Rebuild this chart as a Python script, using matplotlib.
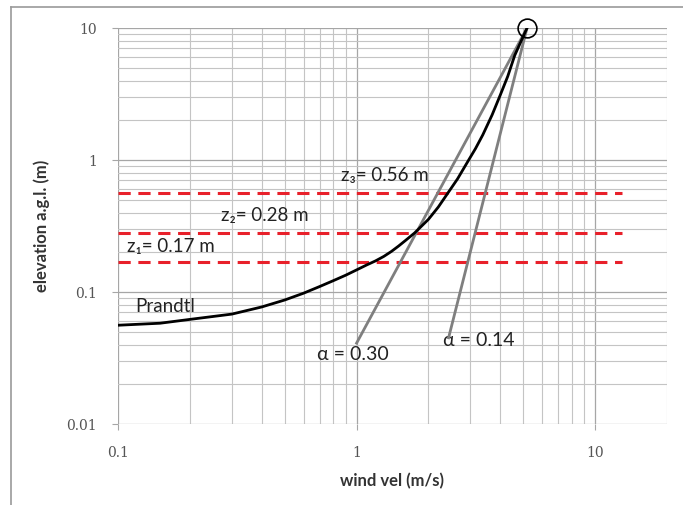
import matplotlib
matplotlib.use("Agg")
import matplotlib.pyplot as plt
from matplotlib.lines import Line2D
from matplotlib.ticker import LogLocator, FixedLocator, NullFormatter

# ---- data ----
prandtl_u = [0.1, 0.15, 0.2, 0.3, 0.4, 0.5, 0.6, 0.7, 0.8, 0.9, 1.0, 1.1, 1.2, 1.3,
             1.4, 1.5, 1.6, 1.75, 2.0, 2.2, 2.41, 2.65, 2.95, 3.15, 3.38, 3.7, 4.0,
             4.3, 4.6, 4.9, 5.18]
prandtl_z = [0.056, 0.058, 0.062, 0.068, 0.077, 0.087, 0.098, 0.11, 0.122, 0.134,
             0.147, 0.16, 0.172, 0.186, 0.203, 0.223, 0.245, 0.28, 0.355, 0.44, 0.56,
             0.72, 1.0, 1.22, 1.55, 2.2, 3.1, 4.3, 6.2, 8.0, 10.0]

alpha030_u = [1.0, 5.18]
alpha030_z = [0.041, 10.0]
alpha014_u = [2.43, 5.18]
alpha014_z = [0.045, 10.0]

ref_u = [5.18]
ref_z = [10.0]

z_levels = [0.17, 0.28, 0.56]
z_labels = ["z\u2081= 0.17 m", "z\u2082= 0.28 m", "z\u2083= 0.56 m"]
z_line_u = [0.1, 12.9]

x_ticks = [0.1, 1, 10]
x_ticklabels = ["0.1", "1", "10"]
y_ticks = [0.01, 0.1, 1, 10]
y_ticklabels = ["0.01", "0.1", "1", "10"]

FONT = ["Lato", "DejaVu Sans"]
plt.rcParams["font.family"] = FONT

fig = plt.figure(figsize=(6.83, 5.05), dpi=100)
ax = fig.add_axes([118/683, 1-424/505, 549/683, 396/505])

# outer chart border (left and top edges visible)
fig.add_artist(Line2D([11/683, 11/683], [0, 1-7/505], transform=fig.transFigure,
                      color="#9a9a9a", linewidth=1.2))
fig.add_artist(Line2D([11/683, 1], [1-7/505, 1-7/505], transform=fig.transFigure,
                      color="#9a9a9a", linewidth=1.2))

ax.set_xscale("log")
ax.set_yscale("log")
ax.set_xlim(0.1, 20)
ax.set_ylim(0.01, 10)

ax.xaxis.set_major_locator(FixedLocator(x_ticks))
ax.yaxis.set_major_locator(FixedLocator(y_ticks))
ax.xaxis.set_minor_locator(LogLocator(base=10, subs=range(2, 10)))
ax.yaxis.set_minor_locator(LogLocator(base=10, subs=range(2, 10)))
ax.xaxis.set_minor_formatter(NullFormatter())
ax.yaxis.set_minor_formatter(NullFormatter())
ax.set_xticklabels(x_ticklabels, family="DejaVu Serif")
ax.set_yticklabels(y_ticklabels, family="DejaVu Serif")

ax.grid(which="major", color="#a6a6a6", linewidth=0.9)
ax.grid(which="minor", color="#c4c4c4", linewidth=0.8)
ax.set_axisbelow(True)
for s in ax.spines.values():
    s.set_visible(False)
ax.tick_params(which="major", length=4, color="#a6a6a6", labelsize=10,
               labelcolor="#555555")
ax.tick_params(which="minor", length=0)
ax.tick_params(axis="y", pad=11)
ax.tick_params(axis="x", pad=12)

# red dashed levels
for z in z_levels:
    ax.plot(z_line_u, [z, z], color="#e8202a", linewidth=2.2, dashes=(4, 2.5), zorder=3)

# power-law lines
ax.plot(alpha030_u, alpha030_z, color="#7f7f7f", linewidth=2.0, zorder=4)
ax.plot(alpha014_u, alpha014_z, color="#7f7f7f", linewidth=2.0, zorder=4)

# Prandtl curve
ax.plot(prandtl_u, prandtl_z, color="black", linewidth=2.0, zorder=5,
        solid_joinstyle="round")

# reference point
ax.plot(ref_u, ref_z, marker="o", markersize=13.5, markerfacecolor="none",
        markeredgecolor="black", markeredgewidth=1.2, linestyle="none", zorder=6,
        clip_on=False)

# annotations (pixel positions converted to axes fraction)
def afrac(px, py):
    return ((px - 118) / 549, (424 - py) / 396)

ann = dict(transform=ax.transAxes, va="center", ha="left", color="#222222")
ax.text(*afrac(341, 176), z_labels[2], fontsize=13.5, **ann)
ax.text(*afrac(221, 216), z_labels[1], fontsize=13.5, **ann)
ax.text(*afrac(127, 247), z_labels[0], fontsize=13.5, **ann)
ax.text(*afrac(135, 307), "Prandtl", fontsize=13.5, **ann)
ax.text(*afrac(317, 355), "\u03b1 = 0.30", fontsize=14, **ann)
ax.text(*afrac(443, 341), "\u03b1 = 0.14", fontsize=14, **ann)

ax.set_xlabel("wind vel (m/s)", fontsize=12, fontweight="bold", color="#333333",
              labelpad=9)
ax.set_ylabel("elevation a.g.l. (m)", fontsize=12, fontweight="bold", color="#333333",
              labelpad=12)

fig.savefig("out.png", dpi=100)
